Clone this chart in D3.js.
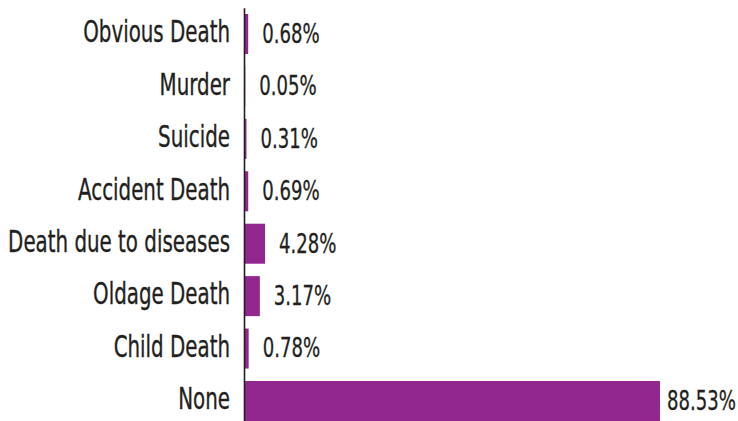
<!DOCTYPE html>
<html>
<head>
<meta charset="utf-8">
<script src="https://cdn.jsdelivr.net/npm/d3@7"></script>
<style>
  html, body { margin: 0; padding: 0; background: #ffffff; }
  svg { display: block; }
</style>
</head>
<body>
<svg id="chart" width="738" height="421"></svg>
<script>
const categories = ["Obvious Death", "Murder", "Suicide", "Accident Death", "Death due to diseases", "Oldage Death", "Child Death", "None"];
const values = [0.68, 0.05, 0.31, 0.69, 4.28, 3.17, 0.78, 88.53];
const valueLabels = ["0.68%", "0.05%", "0.31%", "0.69%", "4.28%", "3.17%", "0.78%", "88.53%"];

const W = 738, H = 421;
const axisX = 244;
const barColor = "#92278f";
const textColor = "#231f20";
const fontFamily = "'Liberation Sans Narrow', 'DejaVu Sans Condensed', 'Roboto Condensed', 'Liberation Sans', Arial, sans-serif";

const svg = d3.select("#chart");

const x = d3.scaleLinear().domain([0, 88.53]).range([axisX + 1, 660]);
const y = d3.scaleBand().domain(categories).range([7.8, 427.2]).paddingInner(0.237).paddingOuter(0.1185);

// bars
svg.append("g").selectAll("rect").data(values).join("rect")
  .attr("x", x(0))
  .attr("y", (d, i) => y(categories[i]))
  .attr("width", d => x(d) - x(0))
  .attr("height", y.bandwidth())
  .attr("fill", barColor);

// axis line (vertical, no ticks)
const yAxis = d3.axisLeft(y).tickSize(0).tickFormat("");
const axisG = svg.append("g").attr("transform", `translate(${axisX},0)`).call(yAxis);
axisG.select(".domain").attr("stroke", textColor).attr("stroke-width", 1.6);

function measure(txt, size) {
  const t = svg.append("text").attr("font-family", fontFamily).attr("font-size", size).text(txt);
  const w = t.node().getComputedTextLength();
  t.remove();
  return w;
}

const catSize = 31, valSize = 27;
const catScale = 222 / measure("Death due to diseases", catSize);
const valScale = 69 / measure("88.53%", valSize);

// category labels
svg.append("g").selectAll("g").data(categories).join("g")
  .attr("transform", d => `translate(230,${y(d) + y.bandwidth() / 2 + 8.3}) scale(${catScale},1)`)
  .append("text")
  .attr("text-anchor", "end")
  .attr("font-family", fontFamily)
  .attr("font-size", catSize)
  .attr("fill", textColor)
  .attr("stroke", textColor)
  .attr("stroke-width", 0.35)
  .text(d => d);

// value labels
svg.append("g").selectAll("g").data(values).join("g")
  .attr("transform", (d, i) => {
    const w = measure(valueLabels[i], valSize) * valScale;
    const lx = Math.min(x(d) + 14, W - 2 - w);
    return `translate(${lx},${y(categories[i]) + y.bandwidth() / 2 + 8.8}) scale(${valScale},1)`;
  })
  .append("text")
  .attr("font-family", fontFamily)
  .attr("font-size", valSize)
  .attr("fill", textColor)
  .attr("stroke", textColor)
  .attr("stroke-width", 0.3)
  .text((d, i) => valueLabels[i]);
</script>
</body>
</html>
